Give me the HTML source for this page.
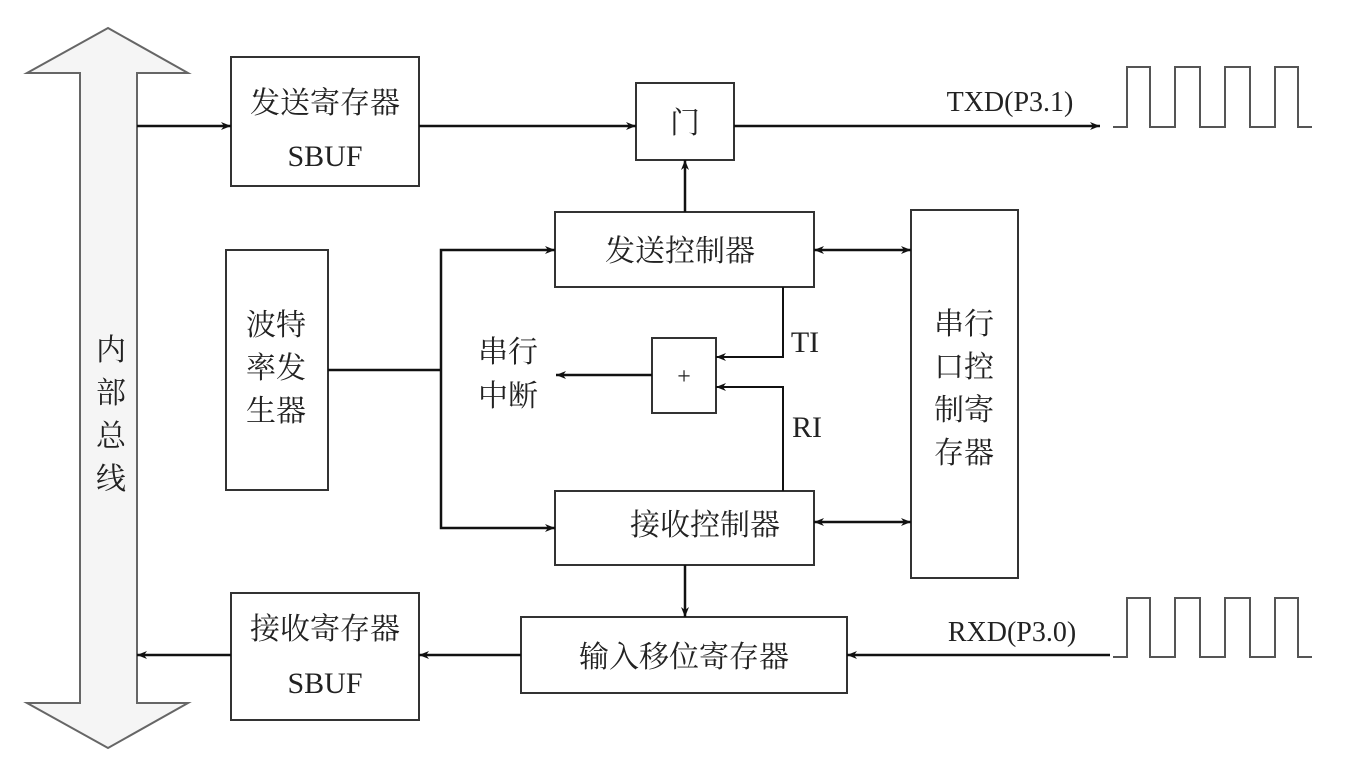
<!DOCTYPE html>
<html><head><meta charset="utf-8"><style>
body{margin:0;background:#fff;}
svg text{font-family:"Liberation Serif","Noto Serif CJK SC",serif;fill:#222;}
</style></head><body>
<svg width="1352" height="756" viewBox="0 0 1352 756" xmlns="http://www.w3.org/2000/svg">
<defs>
<marker id="a" markerWidth="10" markerHeight="8" refX="10" refY="4" orient="auto-start-reverse" markerUnits="userSpaceOnUse">
<path d="M0,0 L10,4 L0,8 L3,4 Z" fill="#111"/></marker>
</defs>
<!-- bus double arrow -->
<path d="M108,28 L188,73 L137,73 L137,703 L188,703 L108,748 L27,703 L80,703 L80,73 L27,73 Z" fill="#f5f5f5" stroke="#666" stroke-width="2"/>
<text x="111" y="360" font-size="30" text-anchor="middle">内</text>
<text x="111" y="403" font-size="30" text-anchor="middle">部</text>
<text x="111" y="446" font-size="30" text-anchor="middle">总</text>
<text x="111" y="489" font-size="30" text-anchor="middle">线</text>
<g fill="none" stroke="#333" stroke-width="2">
<rect x="231" y="57" width="188" height="129"/>
<rect x="636" y="83" width="98" height="77"/>
<rect x="555" y="212" width="259" height="75"/>
<rect x="911" y="210" width="107" height="368"/>
<rect x="226" y="250" width="102" height="240"/>
<rect x="652" y="338" width="64" height="75"/>
<rect x="555" y="491" width="259" height="74"/>
<rect x="231" y="593" width="188" height="127"/>
<rect x="521" y="617" width="326" height="76"/>
<path d="M1113,127 L1127,127 L1127,67 L1150,67 L1150,127 L1175,127 L1175,67 L1200,67 L1200,127 L1225,127 L1225,67 L1250,67 L1250,127 L1275,127 L1275,67 L1298,67 L1298,127 L1312,127" stroke="#555"/>
<path d="M1113,657 L1127,657 L1127,598 L1150,598 L1150,657 L1175,657 L1175,598 L1200,598 L1200,657 L1225,657 L1225,598 L1250,598 L1250,657 L1275,657 L1275,598 L1298,598 L1298,657 L1312,657" stroke="#555"/>
</g>
<g fill="none" stroke="#111" stroke-width="2.5">
<line x1="137" y1="126" x2="231" y2="126" marker-end="url(#a)"/>
<line x1="419" y1="126" x2="636" y2="126" marker-end="url(#a)"/>
<line x1="734" y1="126" x2="1100" y2="126" marker-end="url(#a)"/>
<line x1="685" y1="212" x2="685" y2="160" marker-end="url(#a)"/>
<line x1="328" y1="370" x2="441" y2="370"/>
<path d="M555,250 L441,250 L441,528 L555,528" marker-start="url(#a)" marker-end="url(#a)"/>
<line x1="814" y1="250" x2="911" y2="250" marker-start="url(#a)" marker-end="url(#a)"/>
<line x1="814" y1="522" x2="911" y2="522" marker-start="url(#a)" marker-end="url(#a)"/>
<path d="M783,287 L783,357 L716,357" stroke-width="2" marker-end="url(#a)"/>
<path d="M783,491 L783,387 L716,387" stroke-width="2" marker-end="url(#a)"/>
<line x1="652" y1="375" x2="556" y2="375" marker-end="url(#a)"/>
<line x1="685" y1="565" x2="685" y2="617" marker-end="url(#a)"/>
<line x1="1110" y1="655" x2="847" y2="655" marker-end="url(#a)"/>
<line x1="521" y1="655" x2="419" y2="655" marker-end="url(#a)"/>
<line x1="231" y1="655" x2="137" y2="655" marker-end="url(#a)"/>
</g>
<g font-size="30">
<text x="325" y="113" text-anchor="middle">发送寄存器</text>
<text x="325" y="166" text-anchor="middle">SBUF</text>
<text x="685" y="133" text-anchor="middle">门</text>
<text x="680" y="261" text-anchor="middle">发送控制器</text>
<text x="276" y="335" text-anchor="middle">波特</text>
<text x="276" y="378" text-anchor="middle">率发</text>
<text x="276" y="421" text-anchor="middle">生器</text>
<text x="684" y="384" text-anchor="middle" font-size="24">+</text>
<text x="508" y="362" text-anchor="middle">串行</text>
<text x="508" y="406" text-anchor="middle">中断</text>
<text x="805" y="352" text-anchor="middle">TI</text>
<text x="807" y="437" text-anchor="middle">RI</text>
<text x="964" y="334" text-anchor="middle">串行</text>
<text x="964" y="377" text-anchor="middle">口控</text>
<text x="964" y="420" text-anchor="middle">制寄</text>
<text x="964" y="463" text-anchor="middle">存器</text>
<text x="705" y="535" text-anchor="middle">接收控制器</text>
<text x="325" y="639" text-anchor="middle">接收寄存器</text>
<text x="325" y="693" text-anchor="middle">SBUF</text>
<text x="684" y="667" text-anchor="middle">输入移位寄存器</text>
<text x="1010" y="111" text-anchor="middle" font-size="28">TXD(P3.1)</text>
<text x="1012" y="641" text-anchor="middle" font-size="28">RXD(P3.0)</text>
</g>
</svg>
</body></html>
